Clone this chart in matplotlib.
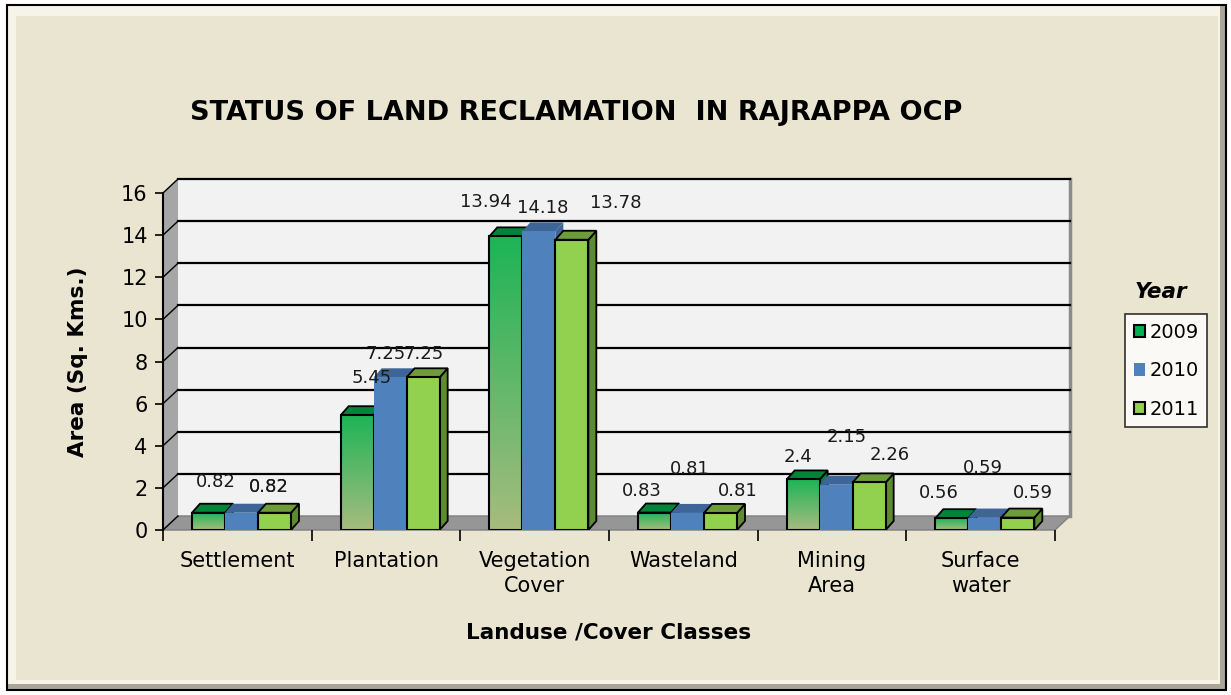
import numpy as np
import matplotlib.pyplot as plt
from matplotlib.patches import Rectangle, Polygon, Patch
from matplotlib.colors import LinearSegmentedColormap

plt.rcParams['font.family'] = ['DejaVu Sans']

categories = ["Settlement", "Plantation", "Vegetation\nCover", "Wasteland", "Mining\nArea", "Surface\nwater"]
years = ["2009", "2010", "2011"]
area_2009 = [0.82, 5.45, 13.94, 0.83, 2.4, 0.56]
area_2010 = [0.82, 7.25, 14.18, 0.81, 2.15, 0.59]
area_2011 = [0.82, 7.25, 13.78, 0.81, 2.26, 0.59]
series = [area_2009, area_2010, area_2011]

# label offsets in pixels (dx from bar centre, dy above bar top)
label_off = [
    [(7, 31), (15, 37), (-20, 34), (-13, 22), (-5, 22), (-13, 25)],
    [(27, 26), (-5, 23), (4, 23), (2, 44), (11, 48), (-2, 50)],
    [(-6, 26), (0, 23), (44, 37), (17, 22), (21, 27), (15, 25)],
]

fig = plt.figure(figsize=(12.31, 6.95), dpi=100)
fig.patch.set_facecolor('white')

# beige panel with bevel
W, H = 1231, 695
def fx(p): return p / W
def fy(p): return 1 - p / H
fig.patches.append(Rectangle((fx(7), fy(690)), fx(1219), 685 / H, transform=fig.transFigure,
                             facecolor='#A9A597', edgecolor='none', zorder=-3))
fig.patches.append(Rectangle((fx(8), fy(684)), fx(1212), 678 / H, transform=fig.transFigure,
                             facecolor='#F6F3E8', edgecolor='none', zorder=-2))
fig.patches.append(Rectangle((fx(16), fy(680)), fx(1202), 664 / H, transform=fig.transFigure,
                             facecolor='#EAE5D0', edgecolor='none', zorder=-1))
fig.patches.append(Rectangle((fx(7), fy(690)), fx(1219), 685 / H, transform=fig.transFigure,
                             facecolor='none', edgecolor='black', lw=1.5, zorder=-0.5))

# plot area (front plane)
L, R, T, B = 163, 1055, 193, 530
ax = fig.add_axes([fx(L), fy(B), (R - L) / W, (B - T) / H])
ax.set_zorder(2)
ax.set_xlim(0, 6)
ax.set_ylim(0, 16)
ax.set_facecolor('none')

ppx = 6 / (R - L)    # data units per pixel, x
ppy = 16 / (B - T)   # data units per pixel, y
WX, WY = 15 * ppx, 14 * ppy   # wall depth
BX, BY = 8 * ppx, 9 * ppy     # bar depth

# walls and floor
ax.add_patch(Rectangle((WX, WY), 6, 16, facecolor='#F2F2F2', edgecolor='none', zorder=0, clip_on=False))
ax.add_patch(Polygon([(0, 0), (WX, WY), (WX, 16 + WY), (0, 16)], closed=True,
                     facecolor='#A6A6A6', edgecolor='none', zorder=0.5, clip_on=False))
ax.add_patch(Polygon([(0, 0), (6, 0), (6 + WX, WY), (WX, WY)], closed=True,
                     facecolor='#969696', edgecolor='#7F7F7F', lw=1, zorder=0.5, clip_on=False))
ax.plot([6 + WX, 6 + WX], [WY, 16 + WY], color='#8C8C8C', lw=2.5, zorder=0.6, clip_on=False)
for yv in range(2, 17, 2):
    ax.plot([WX, 6 + WX], [yv + WY, yv + WY], color='black', lw=1.6, zorder=0.7, clip_on=False)
for yv in range(0, 17, 2):
    ax.plot([0, WX], [yv, yv + WY], color='black', lw=1, zorder=0.7, clip_on=False)

colors = ['#00B050', '#4F81BD', '#92D050']
tops = ['#00843A', '#3D6598', '#6F9C3A']
sides = ['#00843A', '#3D6598', '#5E8A30']
edges = ['black', 'none', 'black']
green_grad = LinearSegmentedColormap.from_list('g', ['#A6BC7E', '#1EB457'])
grad = np.linspace(0, 1, 100).reshape(-1, 1)

bw = 0.222
for i in range(len(categories)):
    for j, vals in enumerate(series):
        h = vals[i]
        x0 = i + 0.195 + j * bw
        z = 2 + j
        # side face
        ax.add_patch(Polygon([(x0 + bw, 0), (x0 + bw + BX, BY), (x0 + bw + BX, h + BY), (x0 + bw, h)],
                             closed=True, facecolor=sides[j], edgecolor=edges[j], lw=1.3, zorder=z))
        # top face
        ax.add_patch(Polygon([(x0, h), (x0 + bw, h), (x0 + bw + BX, h + BY), (x0 + BX, h + BY)],
                             closed=True, facecolor=tops[j], edgecolor=edges[j], lw=1.3, zorder=z,
                             clip_on=False))
        # front face
        if j == 0:
            ax.imshow(grad, extent=(x0, x0 + bw, 0, h), origin='lower', aspect='auto',
                      cmap=green_grad, zorder=z + 0.1)
            ax.add_patch(Rectangle((x0, 0), bw, h, facecolor='none', edgecolor='black', lw=1.5, zorder=z + 0.2))
        else:
            ax.add_patch(Rectangle((x0, 0), bw, h, facecolor=colors[j], edgecolor=edges[j], lw=1.5,
                                   zorder=z + 0.2))
        dx, dy = label_off[j][i]
        ax.text(x0 + bw / 2 + dx * ppx, h + dy * ppy, f"{h:g}", ha='center', va='center',
                fontsize=13, color='#1A1A1A', zorder=10)

ax.set_xlim(0, 6)
ax.set_ylim(0, 16)

# axes styling
for s in ['top', 'right', 'bottom']:
    ax.spines[s].set_visible(False)
ax.spines['left'].set_color('black')
ax.spines['left'].set_linewidth(1.5)
ax.set_yticks(range(0, 17, 2))
ax.tick_params(axis='y', direction='out', length=6, width=1.2, labelsize=15, pad=5)
ax.set_xticks(range(7))
ax.set_xticklabels([])
ax.tick_params(axis='x', which='major', direction='out', length=8, width=1.2)
ax.set_xticks(np.arange(6) + 0.5, minor=True)
ax.set_xticklabels(categories, minor=True, fontsize=15, linespacing=1.35)
ax.tick_params(axis='x', which='minor', length=0, pad=15)
for lab in ax.get_xticklabels(minor=True):
    lab.set_verticalalignment('top')

ax.set_ylabel("Area (Sq. Kms.)", fontsize=15.5, fontweight='bold', labelpad=24)
ax.set_xlabel("Landuse /Cover Classes", fontsize=15.5, fontweight='bold', labelpad=19)

fig.text(fx(576), fy(113), "STATUS OF LAND RECLAMATION  IN RAJRAPPA OCP", ha='center', va='center',
         fontsize=19.5, fontweight='bold')

handles = [Patch(facecolor=colors[0], edgecolor='black', lw=1.5),
           Patch(facecolor=colors[1], edgecolor='none'),
           Patch(facecolor=colors[2], edgecolor='black', lw=1.5)]
leg = fig.legend(handles, years, loc='upper left', bbox_to_anchor=(fx(1125), fy(314)),
                 frameon=True, fancybox=False, edgecolor='black', fontsize=14,
                 handlelength=0.6, handleheight=0.6, handletextpad=0.2, labelspacing=1.0,
                 borderpad=0.45, borderaxespad=0)
leg.get_frame().set_linewidth(1.2)
fig.text(fx(1161), fy(292), "Year", ha='center', va='center', fontsize=15.5,
         fontweight='bold', fontstyle='italic')

fig.savefig('out.png', dpi=100, facecolor=fig.get_facecolor())
